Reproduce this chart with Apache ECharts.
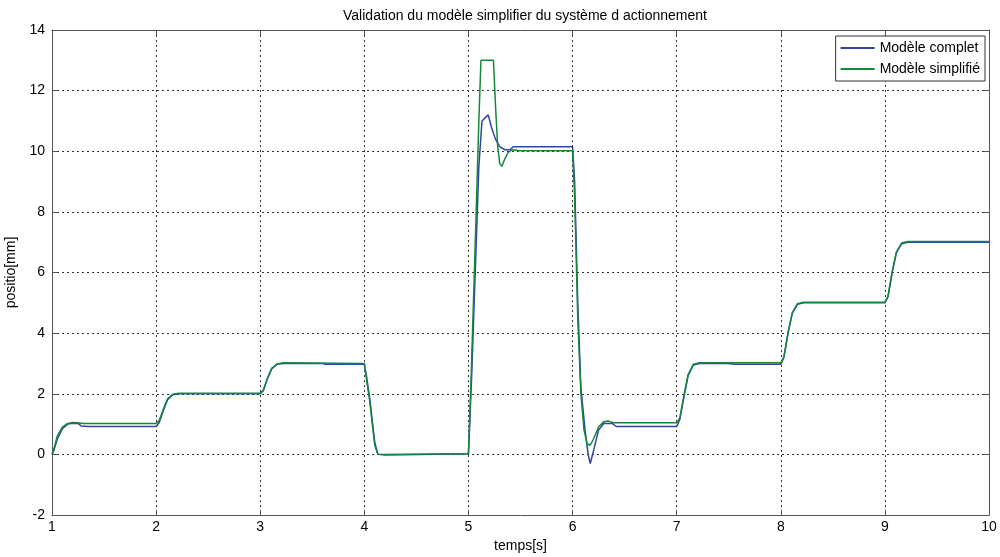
<!DOCTYPE html>
<html>
<head>
<meta charset="utf-8">
<script src="https://cdn.jsdelivr.net/npm/echarts@6/dist/echarts.min.js"></script>
<style>
  html, body { margin: 0; padding: 0; background: #fff; }
  #chart { width: 1000px; height: 557px; }
</style>
</head>
<body>
<div id="chart"></div>
<script>
// valeurs : [temps, position]
var modeleComplet = [
  [1.0, 0], [1.02, 0.15], [1.05, 0.5], [1.1, 0.85], [1.15, 1.0], [1.2, 1.03], [1.25, 1.02],
  [1.28, 0.94], [1.35, 0.92], [2.0, 0.92], [2.03, 1.05], [2.07, 1.45], [2.11, 1.8],
  [2.16, 1.97], [2.22, 2.0], [3.0, 2.0], [3.03, 2.1], [3.07, 2.5], [3.11, 2.82], [3.16, 2.97],
  [3.22, 3.0], [3.6, 3.0], [3.62, 2.97], [4.0, 2.97], [4.02, 2.6], [4.05, 1.9], [4.08, 1.0],
  [4.1, 0.4], [4.13, 0], [4.2, -0.02], [5.0, 0.02], [5.03, 2.5], [5.06, 5.5], [5.1, 9.5],
  [5.13, 11.0], [5.16, 11.1], [5.19, 11.2], [5.22, 10.8], [5.26, 10.4], [5.3, 10.15],
  [5.35, 10.05], [5.4, 10.05], [5.43, 10.15], [6.0, 10.15], [6.02, 9.0], [6.05, 5.0],
  [6.08, 2.2], [6.12, 0.8], [6.15, 0.0], [6.17, -0.3], [6.2, 0.1], [6.25, 0.8], [6.3, 1.02],
  [6.38, 1.02], [6.42, 0.92], [7.0, 0.92], [7.03, 1.15], [7.07, 1.9], [7.11, 2.6],
  [7.16, 2.95], [7.22, 3.0], [7.5, 3.0], [7.55, 2.97], [8.0, 2.97], [8.03, 3.2], [8.07, 4.0],
  [8.11, 4.65], [8.16, 4.95], [8.22, 5.0], [9.0, 5.0], [9.03, 5.2], [9.07, 6.0], [9.11, 6.65],
  [9.16, 6.95], [9.22, 7.0], [10.0, 7.0]
];

var modeleSimplifie = [
  [1.0, 0], [1.02, 0.2], [1.05, 0.6], [1.1, 0.9], [1.15, 1.02], [1.2, 1.05], [1.25, 1.04],
  [1.3, 1.02], [2.0, 1.02], [2.03, 1.12], [2.07, 1.5], [2.11, 1.83], [2.16, 1.98],
  [2.22, 2.02], [3.0, 2.02], [3.03, 2.12], [3.07, 2.52], [3.11, 2.84], [3.16, 2.98],
  [3.22, 3.02], [4.0, 3.0], [4.02, 2.5], [4.05, 1.8], [4.08, 0.9], [4.1, 0.3], [4.13, 0],
  [5.0, 0.02], [5.03, 3.0], [5.07, 7.5], [5.1, 11.0], [5.12, 13.0], [5.24, 13.0],
  [5.26, 11.5], [5.28, 10.2], [5.3, 9.6], [5.32, 9.5], [5.35, 9.75], [5.38, 9.95],
  [5.42, 10.05], [5.5, 10.02], [6.0, 10.02], [6.02, 8.5], [6.05, 4.5], [6.08, 2.0],
  [6.11, 0.8], [6.14, 0.35], [6.17, 0.3], [6.2, 0.5], [6.25, 0.9], [6.3, 1.08], [6.34, 1.1],
  [6.4, 1.04], [7.0, 1.04], [7.03, 1.2], [7.07, 1.95], [7.11, 2.63], [7.16, 2.97],
  [7.22, 3.02], [8.0, 3.02], [8.03, 3.22], [8.07, 4.02], [8.11, 4.67], [8.16, 4.97],
  [8.22, 5.02], [9.0, 5.02], [9.03, 5.22], [9.07, 6.02], [9.11, 6.67], [9.16, 6.97],
  [9.22, 7.02], [10.0, 7.02]
];

var nomsSeries = ["Modèle complet", "Modèle simplifié"];
var couleurs = ["#2f44a6", "#14883a"];

var police = "'Liberation Sans Narrow', 'Liberation Sans', Arial, sans-serif";

var chart = echarts.init(document.getElementById("chart"));

var grille = { type: [2, 3], color: "#333", width: 1 };

var option = {
  animation: false,
  backgroundColor: "#fff",
  textStyle: { fontFamily: police },
  title: {
    text: "Validation du modèle simplifier du système d actionnement",
    left: 520,
    textAlign: "center",
    top: 4,
    textStyle: { fontSize: 14, fontWeight: "normal", color: "#000", fontFamily: police }
  },
  legend: {
    data: nomsSeries,
    orient: "vertical",
    right: 15,
    top: 36,
    itemGap: 7,
    itemWidth: 34,
    itemHeight: 2,
    icon: "rect",
    backgroundColor: "#fff",
    borderColor: "#333",
    borderWidth: 1,
    borderRadius: 0,
    padding: [5, 5, 5, 5],
    textStyle: { fontSize: 14, color: "#000", fontFamily: police }
  },
  grid: { left: 52, right: 11, top: 30, bottom: 42, outerBoundsMode: "none", containLabel: false },
  xAxis: [
    {
      type: "value",
      min: 1,
      max: 10,
      interval: 1,
      name: "temps[s]",
      nameLocation: "middle",
      nameGap: 24,
      nameTextStyle: { fontSize: 14, color: "#000", fontFamily: police },
      axisLine: { onZero: false, lineStyle: { color: "#555" } },
      axisTick: { inside: true, length: 5, lineStyle: { color: "#555" } },
      axisLabel: { fontSize: 14, color: "#000", margin: 5 },
      splitLine: { show: true, lineStyle: grille }
    },
    {
      type: "value",
      min: 1,
      max: 10,
      interval: 1,
      position: "top",
      axisLine: { show: true, onZero: false, lineStyle: { color: "#555" } },
      axisTick: { show: true, inside: true, length: 5, lineStyle: { color: "#555" } },
      axisLabel: { show: false },
      splitLine: { show: false }
    }
  ],
  yAxis: [
    {
      type: "value",
      min: -2,
      max: 14,
      interval: 2,
      name: "positio[mm]",
      nameLocation: "middle",
      nameGap: 32,
      nameTextStyle: { fontSize: 14, color: "#000", fontFamily: police },
      axisLine: { show: true, onZero: false, lineStyle: { color: "#555" } },
      axisTick: { show: true, inside: true, length: 5, lineStyle: { color: "#555" } },
      axisLabel: { fontSize: 14, color: "#000", margin: 7 },
      splitLine: { show: true, lineStyle: grille }
    },
    {
      type: "value",
      min: -2,
      max: 14,
      interval: 2,
      position: "right",
      axisLine: { show: true, onZero: false, lineStyle: { color: "#555" } },
      axisTick: { show: true, inside: true, length: 5, lineStyle: { color: "#555" } },
      axisLabel: { show: false },
      splitLine: { show: false }
    }
  ],
  series: [
    {
      name: nomsSeries[0],
      type: "line",
      data: modeleComplet,
      showSymbol: false,
      lineStyle: { color: couleurs[0], width: 1.5 },
      itemStyle: { color: couleurs[0] },
      z: 3
    },
    {
      name: nomsSeries[1],
      type: "line",
      data: modeleSimplifie,
      showSymbol: false,
      lineStyle: { color: couleurs[1], width: 1.5 },
      itemStyle: { color: couleurs[1] },
      z: 4
    }
  ]
};

chart.setOption(option);
</script>
</body>
</html>
